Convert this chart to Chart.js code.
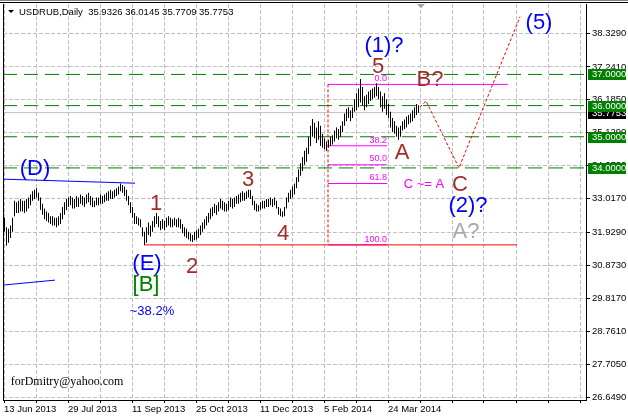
<!DOCTYPE html>
<html>
<head>
<meta charset="utf-8">
<script src="https://cdn.jsdelivr.net/npm/chart.js@4.4.1/dist/chart.umd.min.js"></script>
<style>
html, body { margin: 0; padding: 0; background: #fff; }
canvas { display: block; }
</style>
</head>
<body>
<canvas id="chart" width="628" height="418"></canvas>
<script>
// daily USDRUB bars (high / low)
const highs = [
  32.40, 32.10, 32.05, 32.15, 32.40, 32.95, 32.90, 32.95, 33.00, 32.95,
  32.95, 33.00, 33.05, 33.15, 33.25, 33.30, 33.35, 33.20, 33.05, 32.85,
  32.70, 32.60, 32.55, 32.45, 32.45, 32.40, 32.40, 32.45, 32.55, 32.75,
  32.90, 33.00, 33.05, 33.10, 33.05, 33.00, 33.10, 33.05, 33.15, 33.10,
  33.05, 33.15, 33.20, 33.10, 33.05, 32.95, 33.05, 33.05, 33.15, 33.10,
  33.15, 33.20, 33.25, 33.30, 33.25, 33.30, 33.35, 33.40, 33.50, 33.45,
  33.40, 33.30, 33.10, 32.90, 32.75, 32.55, 32.45, 32.40, 32.35, 32.10,
  31.95, 32.10, 32.25, 32.15, 32.30, 32.45, 32.55, 32.45, 32.30, 32.35,
  32.30, 32.40, 32.45, 32.40, 32.35, 32.40, 32.35, 32.40, 32.35, 32.20,
  32.10, 32.05, 31.95, 31.90, 31.85, 31.95, 32.00, 32.05, 32.15, 32.25,
  32.35, 32.45, 32.55, 32.70, 32.75, 32.85, 32.80, 32.90, 33.00, 32.95,
  32.90, 32.85, 32.95, 33.05, 33.00, 33.05, 33.10, 33.15, 33.20, 33.25,
  33.20, 33.25, 33.30, 33.30, 33.10, 32.95, 32.85, 32.80, 32.90, 32.95,
  32.95, 33.00, 33.00, 33.05, 33.00, 33.05, 32.95, 32.75, 32.70, 32.60,
  32.75, 33.05, 33.20, 33.30, 33.40, 33.50, 33.70, 33.95, 34.15, 34.35,
  34.55, 34.65, 35.00, 35.35, 35.57, 35.45, 35.30, 35.50, 35.35, 35.10,
  34.95, 34.85, 34.90, 35.00, 35.05, 35.20, 35.30, 35.25, 35.35, 35.50,
  35.75, 35.90, 35.95, 35.85, 35.95, 36.20, 36.40, 36.55, 36.85, 36.60,
  36.30, 36.35, 36.45, 36.50, 36.55, 36.60, 36.72, 36.60, 36.45, 36.30,
  36.40, 36.20, 36.05, 35.80, 35.60, 35.50, 35.35, 35.30, 35.35, 35.50,
  35.55, 35.65, 35.70, 35.75, 35.85, 35.95, 36.05, 36.0145
];
const lows = [
  31.95, 31.50, 31.60, 31.75, 31.95, 32.45, 32.55, 32.55, 32.60, 32.60,
  32.55, 32.60, 32.70, 32.80, 32.95, 33.00, 33.05, 32.95, 32.65, 32.50,
  32.35, 32.30, 32.25, 32.20, 32.15, 32.15, 32.10, 32.15, 32.20, 32.35,
  32.50, 32.65, 32.75, 32.80, 32.70, 32.70, 32.75, 32.75, 32.85, 32.80,
  32.75, 32.85, 32.90, 32.80, 32.75, 32.75, 32.80, 32.80, 32.85, 32.85,
  32.90, 32.95, 32.95, 33.00, 33.00, 33.05, 33.10, 33.15, 33.25, 33.20,
  33.10, 32.95, 32.80, 32.55, 32.40, 32.20, 32.20, 32.15, 32.10, 31.80,
  31.53, 31.60, 31.85, 31.80, 31.95, 32.10, 32.20, 32.10, 32.00, 32.05,
  32.00, 32.10, 32.15, 32.10, 32.10, 32.15, 32.10, 32.10, 32.05, 31.90,
  31.80, 31.75, 31.70, 31.65, 31.62, 31.68, 31.70, 31.75, 31.85, 31.95,
  32.05, 32.15, 32.25, 32.35, 32.45, 32.55, 32.50, 32.60, 32.70, 32.65,
  32.60, 32.60, 32.65, 32.75, 32.70, 32.75, 32.85, 32.85, 32.90, 32.95,
  32.95, 33.00, 33.05, 33.00, 32.80, 32.65, 32.60, 32.60, 32.65, 32.70,
  32.70, 32.75, 32.75, 32.80, 32.75, 32.80, 32.70, 32.50, 32.45, 32.42,
  32.45, 32.70, 32.90, 33.00, 33.05, 33.15, 33.35, 33.55, 33.75, 33.90,
  34.10, 34.20, 34.45, 34.70, 35.00, 34.95, 34.80, 34.90, 34.70, 34.65,
  34.60, 34.55, 34.65, 34.70, 34.75, 34.85, 34.95, 34.90, 35.00, 35.15,
  35.35, 35.50, 35.60, 35.50, 35.60, 35.80, 35.85, 35.95, 36.10, 36.00,
  35.85, 35.95, 36.05, 36.15, 36.20, 36.25, 36.30, 36.20, 35.95, 35.80,
  35.90, 35.70, 35.60, 35.30, 35.15, 35.10, 35.00, 34.90, 35.00, 35.20,
  35.25, 35.30, 35.40, 35.45, 35.50, 35.60, 35.70, 35.7709
];

const dateLabels = ['13 Jun 2013', '29 Jul 2013', '11 Sep 2013', '25 Oct 2013', '11 Dec 2013', '5 Feb 2014', '24 Mar 2014'];
const priceTicks = [38.329, 37.241, 36.185, 35.129, 34.073, 33.017, 31.929, 30.873, 29.817, 28.761, 27.705, 26.649];
const lastOHLC = [35.9326, 36.0145, 35.7709, 35.7753];
const roundLevels = [37, 36, 35, 34];

// fibonacci retracement (0.0 at the top, 100.0 at the low)
const fibLevels = [36.68, 34.71, 34.10, 33.50, 31.53];
const fibNames = ['0.0', '38.2', '50.0', '61.8', '100.0'];
const fibFrom = 161.75, fibTo = 191.25;

// forecast path B? -> C -> (5), bar index / price
const waveX = [207.75, 210.75, 227.25, 257.75];
const waveY = [35.95, 36.15, 34.00, 38.85];

// trend lines, bar index / price
const lineD = { x: [-0.75, 65.25], y: [33.64, 33.51] };
const lineLow = { x: [-0.75, 25.25], y: [30.24, 30.40] };
const redLine = { x: [69.75, 256.25], y: 31.53 };
const fibTopEnd = 251.75;

const BROWN = '#a52a2a', BLUE = '#0000ff', MAG = '#ff00ff', GREEN = '#008000';
const notes = [
  { t: '(D)', x: 15.25, y: 33.96, c: BLUE, f: '22px "Liberation Sans"' },
  { t: '1', x: 75.75, y: 32.84, c: BROWN, f: '22px "Liberation Sans"' },
  { t: '2', x: 93.75, y: 30.82, c: BROWN, f: '22px "Liberation Sans"' },
  { t: '3', x: 121.75, y: 33.61, c: BROWN, f: '22px "Liberation Sans"' },
  { t: '4', x: 139.25, y: 31.88, c: BROWN, f: '22px "Liberation Sans"' },
  { t: '5', x: 186.75, y: 37.24, c: BROWN, f: '22px "Liberation Sans"' },
  { t: '(1)?', x: 189.75, y: 37.91, c: BLUE, f: '22px "Liberation Sans"' },
  { t: '(5)', x: 267.25, y: 38.65, c: BLUE, f: '22px "Liberation Sans"' },
  { t: 'B?', x: 212.75, y: 36.82, c: BROWN, f: '22px "Liberation Sans"' },
  { t: 'A', x: 198.75, y: 34.48, c: BROWN, f: '22px "Liberation Sans"' },
  { t: 'C ~= A', x: 209.75, y: 33.48, c: MAG, f: '13px "Liberation Sans"' },
  { t: 'C', x: 227.75, y: 33.45, c: BROWN, f: '22px "Liberation Sans"' },
  { t: '(2)?', x: 231.75, y: 32.78, c: BLUE, f: '22px "Liberation Sans"' },
  { t: 'A?', x: 230.75, y: 31.94, c: '#a9a9a9', f: '22px "Liberation Sans"' },
  { t: '(E)', x: 71.25, y: 30.92, c: BLUE, f: '22px "Liberation Sans"' },
  { t: '[B]', x: 70.75, y: 30.24, c: GREEN, f: '22px "Liberation Sans"' },
  { t: '~38.2%', x: 73.75, y: 29.38, c: BLUE, f: '13px "Liberation Sans"' },
  { t: 'forDmitry@yahoo.com', x: 31.25, y: 27.13, c: '#000', f: '12px "Liberation Serif"' }
];
const fibLabelY = [36.88, 34.89, 34.29, 33.68, 31.69];

const axisFont = { family: 'Liberation Sans', size: 9.5 };
const gridTicks = [];
for (let k = 0; k <= 18; k++) gridTicks.push(-0.25 + 16 * k);

const seg = (xs, ys) => xs.map((v, i) => ({ x: v, y: Array.isArray(ys) ? ys[i] : ys }));
const flat = (y0, x0, x1) => [{ x: x0, y: y0 }, { x: x1, y: y0 }];
const lineSet = (data, color, dash, order) => ({
  type: 'line', data, borderColor: color, borderWidth: 1, borderDash: dash || [],
  pointRadius: 0, fill: false, tension: 0, order
});

const datasets = [
  {
    type: 'bar',
    data: highs.map((h, i) => ({ x: i, y: [lows[i], h] })),
    backgroundColor: '#000', borderWidth: 0, barThickness: 1, inflateAmount: 0, grouped: false, order: 1
  },
  lineSet(flat(lastOHLC[3], -0.75, 290.75), '#c0c0c0', [], 9)
];
roundLevels.forEach(v => datasets.push(lineSet(flat(v, -0.75, 290.75), GREEN, [14, 7], 8)));
datasets.push(lineSet(flat(fibLevels[0], fibFrom, fibTopEnd), MAG, [], 3));
fibLevels.slice(1).forEach(v => datasets.push(lineSet(flat(v, fibFrom, fibTo), MAG, [], 3)));
datasets.push(lineSet(flat(redLine.y, redLine.x[0], redLine.x[1]), '#ff0000', [], 2));
datasets.push(lineSet([{ x: fibFrom, y: fibLevels[0] }, { x: fibFrom, y: fibLevels[4] }], '#ff0000', [3, 2], 2));
datasets.push(lineSet(seg(waveX, waveY), '#ff0000', [3, 2], 2));
datasets.push(lineSet(seg(lineD.x, lineD.y), BLUE, [], 2));
datasets.push(lineSet(seg(lineLow.x, lineLow.y), BLUE, [], 2));

const overlay = {
  id: 'overlay',
  afterDatasetsDraw(chart) {
    const { ctx, scales: { x, y } } = chart;
    ctx.save();
    ctx.textBaseline = 'middle';
    notes.forEach(n => {
      ctx.font = n.f; ctx.fillStyle = n.c; ctx.textAlign = 'center';
      ctx.fillText(n.t, x.getPixelForValue(n.x), y.getPixelForValue(n.y));
    });
    ctx.font = '9px "Liberation Sans"'; ctx.fillStyle = MAG; ctx.textAlign = 'right';
    fibNames.forEach((s, i) => ctx.fillText(s, x.getPixelForValue(fibTo), y.getPixelForValue(fibLabelY[i])));
    ctx.restore();
  },
  afterDraw(chart) {
    const { ctx, scales: { y }, chartArea: a } = chart;
    ctx.save();
    // frame
    ctx.strokeStyle = '#000'; ctx.lineWidth = 1;
    ctx.beginPath();
    ctx.moveTo(a.left + 0.5, a.top); ctx.lineTo(a.left + 0.5, a.bottom);
    ctx.moveTo(0, 2.5); ctx.lineTo(628, 2.5);
    ctx.stroke();
    ctx.strokeStyle = '#808080';
    ctx.beginPath(); ctx.moveTo(0, 0.5); ctx.lineTo(628, 0.5); ctx.stroke();
    // shift marker
    ctx.fillStyle = '#a0a0a0';
    ctx.beginPath(); ctx.moveTo(417, 4); ctx.lineTo(425, 4); ctx.lineTo(421, 8); ctx.closePath(); ctx.fill();
    // header
    ctx.fillStyle = '#000';
    ctx.beginPath(); ctx.moveTo(8, 10); ctx.lineTo(14, 10); ctx.lineTo(11, 13); ctx.closePath(); ctx.fill();
    ctx.font = '9.5px "Liberation Sans"'; ctx.textBaseline = 'middle'; ctx.textAlign = 'left';
    ctx.fillText('USDRUB,Daily  ' + lastOHLC.map(v => v.toFixed(4)).join(' '), 19, 12);
    // price boxes
    const box = (v, bg) => {
      const py = Math.round(y.getPixelForValue(v));
      ctx.fillStyle = bg; ctx.fillRect(a.right + 2, py - 5, 626 - a.right - 2, 11);
      ctx.fillStyle = '#fff'; ctx.fillText(v.toFixed(4), a.right + 6, py + 0.5);
    };
    box(lastOHLC[3], '#000');
    roundLevels.forEach(v => box(v, GREEN));
    ctx.restore();
  }
};

new Chart(document.getElementById('chart'), {
  type: 'bar',
  data: { datasets },
  options: {
    responsive: false,
    animation: false,
    events: [],
    layout: { padding: { left: 3, top: 4, right: 0, bottom: 0 } },
    plugins: { legend: { display: false }, tooltip: { enabled: false } },
    scales: {
      x: {
        type: 'linear', min: -0.75, max: 290.75, offset: false,
        afterBuildTicks: s => { s.ticks = gridTicks.map(v => ({ value: v })); },
        afterFit: s => { s.height = 18; s.paddingLeft = 0; s.paddingRight = 0; },
        ticks: {
          autoSkip: false, maxRotation: 0, minRotation: 0, align: 'start', padding: 1,
          color: '#000', font: axisFont,
          callback: (v, i) => (i % 2 === 0 && dateLabels[i / 2]) ? dateLabels[i / 2] : ''
        },
        grid: { offset: false, color: '#c0c0c0', tickColor: '#000', tickLength: 3, tickBorderDash: [] },
        border: { display: true, color: '#000', dash: [4, 2] }
      },
      y: {
        type: 'linear', position: 'right', min: 26.553, max: 39.26,
        afterBuildTicks: s => { s.ticks = priceTicks.map(v => ({ value: v })); },
        afterFit: s => { s.width = 42; s.paddingTop = 0; s.paddingBottom = 0; },
        ticks: { autoSkip: false, padding: 2, color: '#000', font: axisFont, callback: v => v.toFixed(4) },
        grid: { color: '#c0c0c0', tickColor: '#000', tickLength: 4, tickBorderDash: [] },
        border: { display: true, color: '#000', dash: [4, 2] }
      }
    }
  },
  plugins: [overlay]
});
</script>
</body>
</html>
